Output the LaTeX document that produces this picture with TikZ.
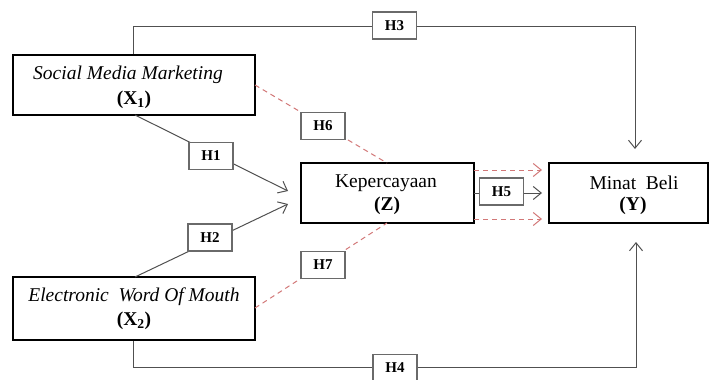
\documentclass[tikz,border=0pt]{standalone}
\usepackage{fontspec}
\setmainfont{Liberation Serif}
\usetikzlibrary{arrows.meta}
\definecolor{lnc}{HTML}{505050}
\definecolor{redd}{HTML}{D27878}
\tikzset{
  varbox/.style={draw=black, line width=2.6pt, fill=white, inner sep=0pt},
  hbox/.style={draw=lnc!85, line width=1.1pt, fill=white, minimum width=44pt, minimum height=27pt, inner sep=0pt, font=\fontsize{15}{17}\selectfont\bfseries},
  vtext/.style={font=\fontsize{19.5}{22}\selectfont, inner sep=0pt},
  conn/.style={draw=lnc, line width=1pt},
  tip/.style={-{Straight Barb[length=8pt,width=13pt,line width=1pt]}},
  reddash/.style={draw=redd, line width=1pt, dash pattern=on 5pt off 4pt},
}
\begin{document}
\begin{tikzpicture}[x=1pt,y=-1pt]
\useasboundingbox (0,0) rectangle (710,380);
% variable boxes
\node[varbox, minimum width=242pt, minimum height=60pt] (X1) at (134,85) {};
\node[varbox, minimum width=242pt, minimum height=63pt] (X2) at (134,308.5) {};
\node[varbox, minimum width=173pt, minimum height=60pt] (Z) at (387.5,193) {};
\node[varbox, minimum width=159pt, minimum height=60pt] (Y) at (628.5,193) {};
% texts
\node[vtext] (t1a) at (128,75) {\itshape Social Media Marketing};
\node[vtext] (t1b) at (134,100) {\textbf{(X\textsubscript{1})}};
\node[vtext] (t2a) at (134,297) {\itshape Electronic\ \ Word Of Mouth};
\node[vtext] (t2b) at (134,321) {\textbf{(X\textsubscript{2})}};
\node[vtext] (tza) at (386,183) {Kepercayaan};
\node[vtext] (tzb) at (387,206) {\textbf{(Z)}};
\node[vtext] (tya) at (634,183) {Minat\ \ Beli};
\node[vtext] (tyb) at (633,206) {\textbf{(Y)}};
% coordinates
\coordinate (a1) at (288,191);
\coordinate (a2) at (288,204);
\coordinate (s1) at (135,115);
\coordinate (s2) at (135,277);
\coordinate (c3) at (635,26);
\coordinate (e3) at (635,149);
\coordinate (c4) at (636,367);
\coordinate (e4) at (636,242);
\coordinate (r1) at (474,170);
\coordinate (r1e) at (542,170);
\coordinate (r2) at (474,219);
\coordinate (r2e) at (542,219);
\coordinate (m5) at (474,193);
\coordinate (m5e) at (542,193);
\coordinate (s6) at (255,85);
\coordinate (e6) at (387,163);
\coordinate (s7) at (255,308);
\coordinate (e7) at (387,223);
% connectors
\draw[conn,tip] (s1) -- (a1);
\draw[conn,tip] (s2) -- (a2);
\draw[conn,tip] (X1.north -| 133,0) |- (c3) -- (e3);
\draw[conn,tip] (X2.south -| 133,0) |- (c4) -- (e4);
\draw[conn,tip] (m5) -- (m5e);
\draw[reddash,tip] (r1) -- (r1e);
\draw[reddash,tip] (r2) -- (r2e);
\draw[reddash] (s6) -- (e6);
\draw[reddash] (s7) -- (e7);
% hypothesis labels
\node[hbox] (H1) at (211,156) {H1};
\node[hbox] (H2) at (210,237.5) {H2};
\node[hbox] (H3) at (394.5,25.5) {H3};
\node[hbox] (H4) at (395,368) {H4};
\node[hbox] (H5) at (501.5,191.5) {H5};
\node[hbox] (H6) at (323,126) {H6};
\node[hbox] (H7) at (323,265) {H7};
\end{tikzpicture}
\end{document}
